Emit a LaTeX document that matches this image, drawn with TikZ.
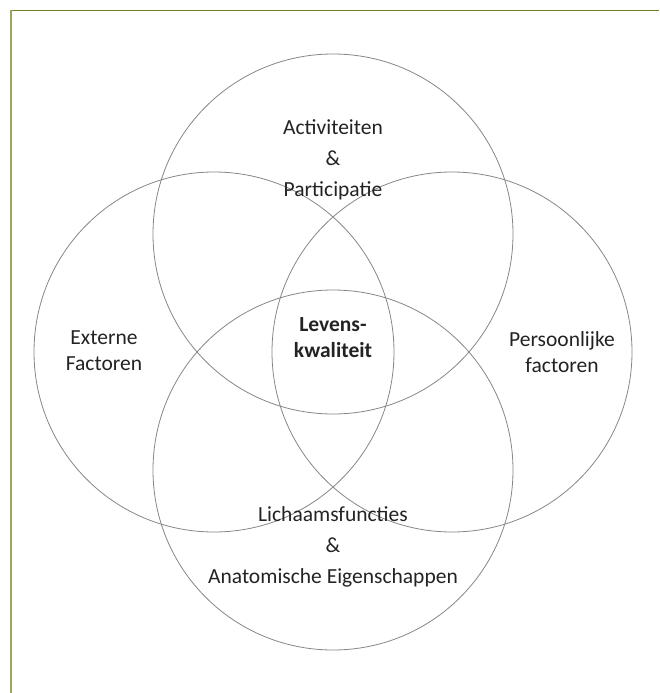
\documentclass[tikz,border=0pt]{standalone}
\usepackage{fontspec}
\setmainfont{Carlito}
\definecolor{frameolive}{RGB}{112,128,40}
\definecolor{frameleft}{RGB}{150,168,96}
\definecolor{ringgray}{RGB}{135,135,135}
\definecolor{txtgray}{RGB}{35,35,35}
\begin{document}
\begin{tikzpicture}[x=1pt,y=-1pt,
  ring/.style={circle, draw=ringgray, line width=0.8pt, minimum size=360pt, inner sep=0pt},
  lbl/.style={align=center, font=\fontsize{21.5}{31}\selectfont, text=txtgray, inner sep=0pt},
  lbltwo/.style={align=center, font=\fontsize{21.5}{26}\selectfont, text=txtgray, inner sep=0pt},
  lblbold/.style={lbltwo, font=\bfseries\fontsize{21.5}{26}\selectfont}]
\useasboundingbox (0,0) rectangle (659,693);
\fill[white] (0,0) rectangle (659,693);
\draw[frameolive, line width=1.6pt] (11,10.5) -- (659,10.5);
\draw[frameleft, line width=1.6pt] (11,10.5) -- (11,693);
\node[ring] (top) at (333,234) {};
\node[ring] (left) at (214,352) {};
\node[ring] (right) at (452,352) {};
\node[ring] (bottom) at (333,470) {};
\node[lbl] (act) at (333,160) {Activiteiten\\\&\\Participatie};
\node[lbltwo] (ext) at (104,351) {Externe\\Factoren};
\node[lblbold] (lev) at (333,338) {Levens-\\kwaliteit};
\node[lbltwo] (pers) at (562,352) {Persoonlijke\\factoren};
\node[lbl] (lich) at (333,547) {Lichaamsfuncties\\\&\\Anatomische Eigenschappen};
\end{tikzpicture}
\end{document}
